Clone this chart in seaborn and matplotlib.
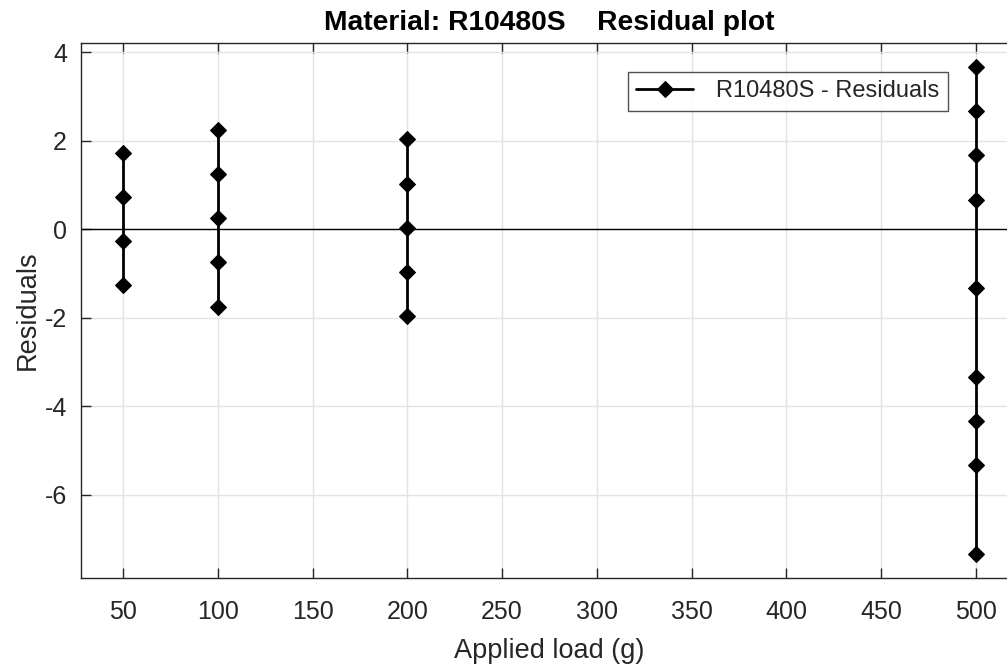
import numpy as np
import pandas as pd
import matplotlib
matplotlib.use('Agg')
import matplotlib.pyplot as plt
import seaborn as sns
from matplotlib.legend_handler import HandlerLine2D

# Residuals, grouped by applied load
loads = [50, 100, 200, 500]
resid_50 = [1.73, 0.73, -0.27, -1.27]
resid_100 = [2.25, 1.25, 0.25, -0.75, -1.75]
resid_200 = [2.03, 1.03, 0.03, -0.97, -1.97]
resid_500 = [3.67, 2.67, 1.67, 0.67, -1.33, -3.33, -4.33, -5.33, -7.33]

x_ticks = [50, 100, 150, 200, 250, 300, 350, 400, 450, 500]
y_ticks = [-6, -4, -2, 0, 2, 4]

groups = [resid_50, resid_100, resid_200, resid_500]
rows = []
for load, vals in zip(loads, groups):
    for v in vals:
        rows.append({'load': load, 'resid': v})
df = pd.DataFrame(rows)


# legend marker drawn at the end of the line sample
class EndMarkerHandler(HandlerLine2D):
    def get_xdata(self, legend, xdescent, ydescent, width, height, fontsize):
        xdata = np.array([-xdescent, -xdescent + width])
        return xdata, np.array([-xdescent + width])


sns.set_theme(style='whitegrid')
plt.rcParams['font.family'] = ['Liberation Sans', 'DejaVu Sans']

fig = plt.figure(figsize=(10.07, 6.64), dpi=100)
ax = fig.add_axes([81 / 1007, 86 / 664, 937 / 1007, 535 / 664])

ax.axhline(0, color='black', lw=1.0, zorder=1)
sns.lineplot(data=df, x='load', y='resid', units='load', estimator=None,
             sort=False, color='black', lw=2.0, marker='D', markersize=8.5,
             markeredgecolor='black', label='R10480S - Residuals', ax=ax, zorder=3)

ax.set_xlim(27.8, 522.2)
ax.set_ylim(-7.88, 4.21)
ax.set_xticks(x_ticks)
ax.set_yticks(y_ticks)
ax.set_xticklabels([str(t) for t in x_ticks])
ax.set_yticklabels([str(t) for t in y_ticks])

ax.grid(True, color='#e3e3e3', lw=1.0)
ax.set_facecolor('white')
for s in ax.spines.values():
    s.set_color('#262626')
    s.set_linewidth(1.0)
ax.tick_params(axis='both', which='both', direction='in', length=7, width=1.0,
               color='#262626', labelsize=18, labelcolor='#262626',
               top=True, right=True, bottom=True, left=True)
ax.tick_params(axis='x', pad=16)
ax.tick_params(axis='y', pad=10)

ax.set_xlabel('Applied load (g)', fontsize=19.5, color='#262626', labelpad=10)
ax.set_ylabel('Residuals', fontsize=19.5, color='#262626', labelpad=3)
ax.set_title('Material: R10480S    Residual plot', fontsize=20.3,
             fontweight='bold', color='black', pad=9)

handles, labels = ax.get_legend_handles_labels()
leg = ax.legend(handles[:1], labels[:1], loc='upper right',
                bbox_to_anchor=(948 / 1007, 1 - 72 / 664),
                bbox_transform=fig.transFigure, borderaxespad=0, fontsize=17,
                frameon=True, fancybox=False, borderpad=0.35, handlelength=2.4,
                handletextpad=1.0, numpoints=1,
                handler_map={handles[0]: EndMarkerHandler()})
leg.get_frame().set_edgecolor('#262626')
leg.get_frame().set_linewidth(1.0)
for t in leg.get_texts():
    t.set_color('#262626')

fig.savefig('out.png', dpi=100)
